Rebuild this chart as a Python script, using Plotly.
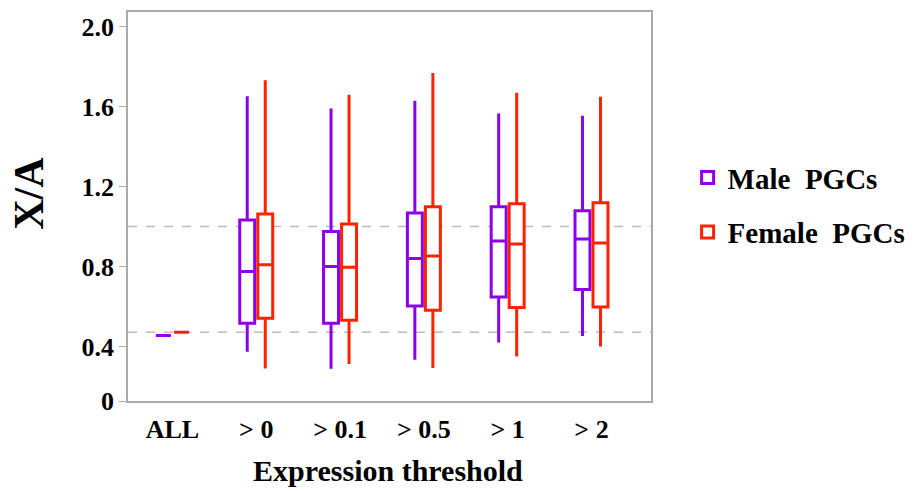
import plotly.graph_objects as go

categories = ["ALL", "> 0", "> 0.1", "> 0.5", "> 1", "> 2"]
tick_text_x = ["ALL", "> 0", "> 0.1", "> 0.5", "> 1", "> 2"]

male_lower = [0.455, 0.374, 0.289, 0.334, 0.420, 0.453]
male_q1 = [0.455, 0.516, 0.516, 0.603, 0.648, 0.685]
male_median = [0.455, 0.775, 0.800, 0.840, 0.928, 0.937]
male_q3 = [0.455, 1.033, 0.975, 1.068, 1.099, 1.079]
male_upper = [0.455, 1.651, 1.590, 1.628, 1.565, 1.554]

female_lower = [0.471, 0.290, 0.313, 0.293, 0.350, 0.400]
female_q1 = [0.471, 0.541, 0.532, 0.582, 0.595, 0.598]
female_median = [0.471, 0.809, 0.797, 0.853, 0.913, 0.918]
female_q3 = [0.471, 1.063, 1.012, 1.099, 1.114, 1.119]
female_upper = [0.471, 1.731, 1.659, 1.767, 1.669, 1.649]

y_tickvals = [0.128, 0.4, 0.8, 1.2, 1.6, 2.0]
y_ticktext = ["0", "0.4", "0.8", "1.2", "1.6", "2.0"]
ref_lines = [1.0, 0.471]

MALE = "#8A00E8"
FEMALE = "#FF2200"
FONT = "Liberation Serif"

fig = go.Figure()
fig.add_trace(go.Box(
    name="<b>Male  PGCs</b>", x=categories, lowerfence=male_lower, q1=male_q1,
    median=male_median, q3=male_q3, upperfence=male_upper,
    line=dict(color=MALE, width=3), fillcolor="rgba(255,255,255,1)",
    whiskerwidth=0, boxpoints=False, legendgroup="m"))
fig.add_trace(go.Box(
    name="<b>Female  PGCs</b>", x=categories, lowerfence=female_lower, q1=female_q1,
    median=female_median, q3=female_q3, upperfence=female_upper,
    line=dict(color=FEMALE, width=3), fillcolor="rgba(255,255,255,1)",
    whiskerwidth=0, boxpoints=False, legendgroup="f"))

for v in ref_lines:
    fig.add_shape(type="line", xref="paper", x0=0, x1=1, yref="y", y0=v, y1=v,
                  line=dict(color="#BBBBBB", width=1.5, dash="dash"), layer="below")

fig.add_annotation(text="<b>X/A</b>", xref="paper", yref="paper", x=-0.189, y=0.533,
                   textangle=-90, showarrow=False, xanchor="center", yanchor="middle",
                   font=dict(family=FONT, size=42, color="black"))
fig.add_annotation(text="<b>Expression threshold</b>", xref="paper", yref="paper", x=0.497, y=-0.178,
                   showarrow=False, xanchor="center", yanchor="middle",
                   font=dict(family=FONT, size=30, color="black"))

fig.update_layout(
    width=921, height=491,
    margin=dict(l=128, r=263, t=10, b=90),
    plot_bgcolor="white", paper_bgcolor="white",
    boxmode="group", boxgap=0.57, boxgroupgap=0.17,
    font=dict(family=FONT, color="black"),
    legend=dict(x=1.07, y=0.64, xanchor="left", yanchor="top",
                font=dict(family=FONT, size=29, color="black"),
                tracegroupgap=14, bgcolor="rgba(0,0,0,0)"),
    showlegend=True,
)
fig.update_xaxes(
    type="category", range=[-0.53, 5.71],
    tickvals=categories, ticktext=[f"<b>{t}</b>" for t in tick_text_x],
    tickfont=dict(family=FONT, size=26, color="black"), ticklabelstandoff=4,
    showline=True, linecolor="#AAAAAA", linewidth=1.5, mirror=True,
    ticks="", showgrid=False,
)
fig.update_yaxes(
    range=[0.128, 2.072], tickvals=y_tickvals, ticktext=[f"<b>{t}</b>" for t in y_ticktext],
    tickfont=dict(family=FONT, size=26, color="black"),
    showline=True, linecolor="#AAAAAA", linewidth=1.5, mirror=True,
    ticks="outside", ticklen=7, tickcolor="#AAAAAA", showgrid=False, zeroline=False,
)

fig.write_html("out.html")
